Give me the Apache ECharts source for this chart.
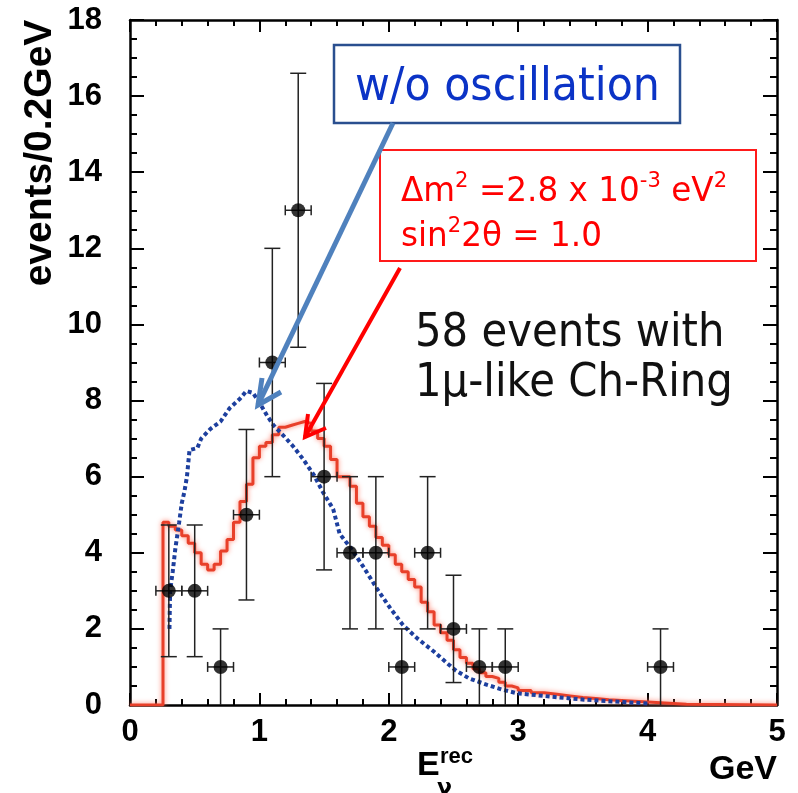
<!DOCTYPE html>
<html>
<head>
<meta charset="utf-8">
<script src="https://cdn.jsdelivr.net/npm/echarts/dist/echarts.min.js"></script>
<style>html,body{margin:0;padding:0;background:#fff}#c{width:798px;height:793px}</style>
</head>
<body>
<div id="c"></div>
<script>
// ---- data ----
const binCenters = [0.3,0.5,0.7,0.9,1.1,1.3,1.5,1.7,1.9,2.1,2.3,2.5,2.7,2.9,4.1];
const counts     = [3,3,1,5,9,13,6,4,4,1,4,2,1,1,1];
const errLow     = [1.27,1.27,0,2.76,6.0,9.4,3.55,2,2,0,2,0.59,0,0,0];
const errHigh    = [4.73,4.73,2,7.24,12,16.6,8.45,6,6,2,6,3.41,2,2,2];
const binHalfWidth = [0.1,0.1,0.1,0.1,0.1,0.1,0.1,0.1,0.1,0.1,0.1,0.1,0.1,0.1,0.1];

// oscillated expectation (step histogram: left edge -> value)
const redEdges  = [0,0.255,0.30,0.35,0.40,0.45,0.50,0.55,0.60,0.65,0.70,0.75,0.80,0.85,0.90,0.95,1.00,1.05,1.10,1.15,1.20,1.25,1.30,1.35,1.40,1.45,1.50,1.55,1.60,1.65,1.70,1.75,1.80,1.85,1.90,1.95,2.00,2.05,2.10,2.15,2.20,2.25,2.30,2.35,2.40,2.45,2.50,2.55,2.60,2.65,2.70,2.75,2.80,2.85,2.90,2.95,3.00,3.10,3.20,3.30,3.40,3.50,3.60,3.70,3.80,3.90,4.00,4.10,4.20,4.30,5.00];
const redValues = [0,4.8,4.7,4.6,4.45,4.25,4.0,3.7,3.55,3.7,4.05,4.35,4.8,5.35,5.8,6.5,6.8,6.9,7.1,7.3,7.35,7.4,7.45,7.4,7.2,7.0,6.8,6.45,6.0,6.0,5.75,5.3,4.95,4.7,4.4,4.2,3.95,3.7,3.5,3.3,3.1,2.7,2.45,2.1,1.9,1.7,1.45,1.25,1.1,0.95,0.85,0.75,0.7,0.6,0.5,0.45,0.38,0.32,0.28,0.24,0.2,0.17,0.14,0.12,0.1,0.08,0.06,0.04,0.02,0,0];

// no-oscillation expectation
const blueX = [0.305,0.31,0.33,0.35,0.38,0.40,0.42,0.44,0.46,0.52,0.55,0.62,0.70,0.77,0.85,0.90,0.95,1.00,1.06,1.11,1.18,1.26,1.34,1.42,1.49,1.57,1.62,1.70,1.80,1.91,2.01,2.11,2.22,2.35,2.45,2.52,2.62,2.76,2.88,2.99,3.25,3.51,3.8,4.0];
const blueY = [2.0,3.0,3.5,4.1,4.8,5.3,5.6,6.0,6.7,6.75,7.0,7.25,7.45,7.8,8.05,8.25,8.2,7.95,7.6,7.35,7.1,6.8,6.45,6.05,5.6,5.15,4.5,4.15,3.65,3.05,2.55,2.1,1.75,1.4,1.1,0.9,0.7,0.53,0.4,0.31,0.22,0.14,0.08,0.04];

const chart = echarts.init(document.getElementById('c'), null, {renderer:'canvas'});

const AX = '#000';
const tickFont = {fontSize:31, fontWeight:'bold', color:'#000', fontFamily:'Liberation Sans, Arial, sans-serif'};
function mkX(pos, labels){
  return {type:'value', position:pos, min:0, max:5, interval:1,
    axisLine:{show:true, onZero:false, lineStyle:{color:AX, width:2.5}},
    axisTick:{show:true, inside:true, length:12, lineStyle:{color:AX, width:2}},
    minorTick:{show:true, splitNumber:5, length:6, lineStyle:{color:AX, width:2}},
    axisLabel: labels ? Object.assign({margin:12}, tickFont) : {show:false},
    splitLine:{show:false}, minorSplitLine:{show:false}};
}
function mkY(pos, labels){
  return {type:'value', position:pos, min:0, max:18, interval:2,
    axisLine:{show:true, onZero:false, lineStyle:{color:AX, width:2.5}},
    axisTick:{show:true, inside:true, length:14, lineStyle:{color:AX, width:2}},
    minorTick:{show:true, splitNumber:4, length:7, lineStyle:{color:AX, width:2}},
    axisLabel: labels ? Object.assign({margin:28}, tickFont) : {show:false},
    splitLine:{show:false}, minorSplitLine:{show:false}};
}

const ann = "DejaVu Sans, sans-serif";

const option = {
  animation:false,
  backgroundColor:'#fff',
  grid:{left:130, right:21, top:20, bottom:88},
  xAxis:[mkX('bottom', true), mkX('top', false)],
  yAxis:[mkY('left', true), mkY('right', false)],
  series:[
    {type:'line', step:'end', showSymbol:false, silent:true, z:2,
     data: redEdges.map((x,i)=>[x, redValues[i]]),
     lineStyle:{color:'#e8402a', width:3, shadowColor:'rgba(255,120,100,0.9)', shadowBlur:5}},
    {type:'line', showSymbol:false, silent:true, z:3,
     data: blueX.map((x,i)=>[x, blueY[i]]),
     lineStyle:{color:'#1d3f9e', width:4, type:[4,3], cap:'butt'}},
    {type:'custom', silent:true, z:4,
     data: binCenters.map((x,i)=>[x, errLow[i], errHigh[i], binHalfWidth[i], counts[i]]),
     renderItem:function(params, api){
       const x=api.value(0), lo=api.value(1), hi=api.value(2), hw=api.value(3), c=api.value(4);
       const pLo=api.coord([x,lo]), pHi=api.coord([x,hi]);
       const pL=api.coord([x-hw,c]), pR=api.coord([x+hw,c]);
       const st={stroke:'#222', lineWidth:1.5};
       const cw=8, ch=5;
       const kids=[
         {type:'line', shape:{x1:pLo[0],y1:pLo[1],x2:pHi[0],y2:pHi[1]}, style:st},
         {type:'line', shape:{x1:pHi[0]-cw,y1:pHi[1],x2:pHi[0]+cw,y2:pHi[1]}, style:st},
         {type:'line', shape:{x1:pL[0],y1:pL[1],x2:pR[0],y2:pR[1]}, style:st},
         {type:'line', shape:{x1:pL[0],y1:pL[1]-ch,x2:pL[0],y2:pL[1]+ch}, style:st},
         {type:'line', shape:{x1:pR[0],y1:pR[1]-ch,x2:pR[0],y2:pR[1]+ch}, style:st}
       ];
       if (lo > 0) kids.push({type:'line', shape:{x1:pLo[0]-cw,y1:pLo[1],x2:pLo[0]+cw,y2:pLo[1]}, style:st});
       return {type:'group', children:kids};
     }},
    {type:'scatter', z:10, symbol:'circle', symbolSize:14, silent:true,
     itemStyle:{color:'#000'},
     data: binCenters.map((x,i)=>[x, counts[i]])}
  ],
  graphic:[
    {type:'text', x:40, y:153, rotation:Math.PI/2, z:20,
     style:{text:'events/0.2GeV', fill:'#000', font:'bold 39px Liberation Sans, Arial, sans-serif', align:'center', verticalAlign:'middle'}},
    {type:'text', x:417, y:783, z:20, style:{text:'E', fill:'#000', font:'bold 34px Liberation Sans, Arial, sans-serif', align:'left', verticalAlign:'bottom'}},
    {type:'text', x:440, y:768, z:20, style:{text:'rec', fill:'#000', font:'bold 22px Liberation Sans, Arial, sans-serif', align:'left', verticalAlign:'bottom'}},
    {type:'text', x:437, y:799, z:20, style:{text:'ν', fill:'#000', font:'bold 22px DejaVu Sans, sans-serif', align:'left', verticalAlign:'bottom'}},
    {type:'text', x:777, y:787, z:20, style:{text:'GeV', fill:'#000', font:'bold 34px Liberation Sans, Arial, sans-serif', align:'right', verticalAlign:'bottom'}},
    {type:'rect', z:20, shape:{x:334, y:45, width:346, height:78}, style:{fill:'#fff', stroke:'#2a4f8f', lineWidth:2.5}},
    {type:'text', x:355, y:88, scaleX:0.93, z:21, style:{text:'w/o oscillation', fill:'#0b33c6', font:'46px '+ann, align:'left', verticalAlign:'middle'}},
    {type:'rect', z:20, shape:{x:380, y:150, width:376, height:111}, style:{fill:'#fff', stroke:'#ff1a1a', lineWidth:2}},
    {type:'text', x:401, y:164, scaleX:0.96, z:21, style:{
      text:'{m|Δm}{s|2}{m| =2.8 x 10}{s|-3}{m| eV}{s|2}\n{m|sin}{s|2}{m|2θ = 1.0}',
      fill:'#ff0000', align:'left', verticalAlign:'top',
      rich:{ m:{fontSize:34, fontFamily:ann, fill:'#ff0000', color:'#ff0000', lineHeight:45, verticalAlign:'bottom'},
             s:{fontSize:22, fontFamily:ann, fill:'#ff0000', color:'#ff0000', lineHeight:45, verticalAlign:'top', padding:[6,0,0,0]} }}},
    {type:'text', x:415, y:334, scaleX:0.89, z:21, style:{text:'58 events with', fill:'#111', font:'47px '+ann, align:'left', verticalAlign:'middle'}},
    {type:'text', x:415, y:384, scaleX:0.89, z:21, style:{text:'1μ-like Ch-Ring', fill:'#111', font:'47px '+ann, align:'left', verticalAlign:'middle'}},
    {type:'line', z:22, shape:{x1:393, y1:123, x2:258, y2:405}, style:{stroke:'#4f81bd', lineWidth:5}},
    {type:'polyline', z:22, shape:{points:[[281,392],[258,405],[262,378]]}, style:{stroke:'#4f81bd', lineWidth:5, fill:null, lineJoin:'miter'}},
    {type:'line', z:22, shape:{x1:400, y1:268, x2:305, y2:437}, style:{stroke:'#ff0000', lineWidth:4}},
    {type:'polyline', z:22, shape:{points:[[326,428],[305,437],[308,414]]}, style:{stroke:'#ff0000', lineWidth:4, fill:null, lineJoin:'miter'}}
  ]
};
chart.setOption(option);
</script>
</body>
</html>
